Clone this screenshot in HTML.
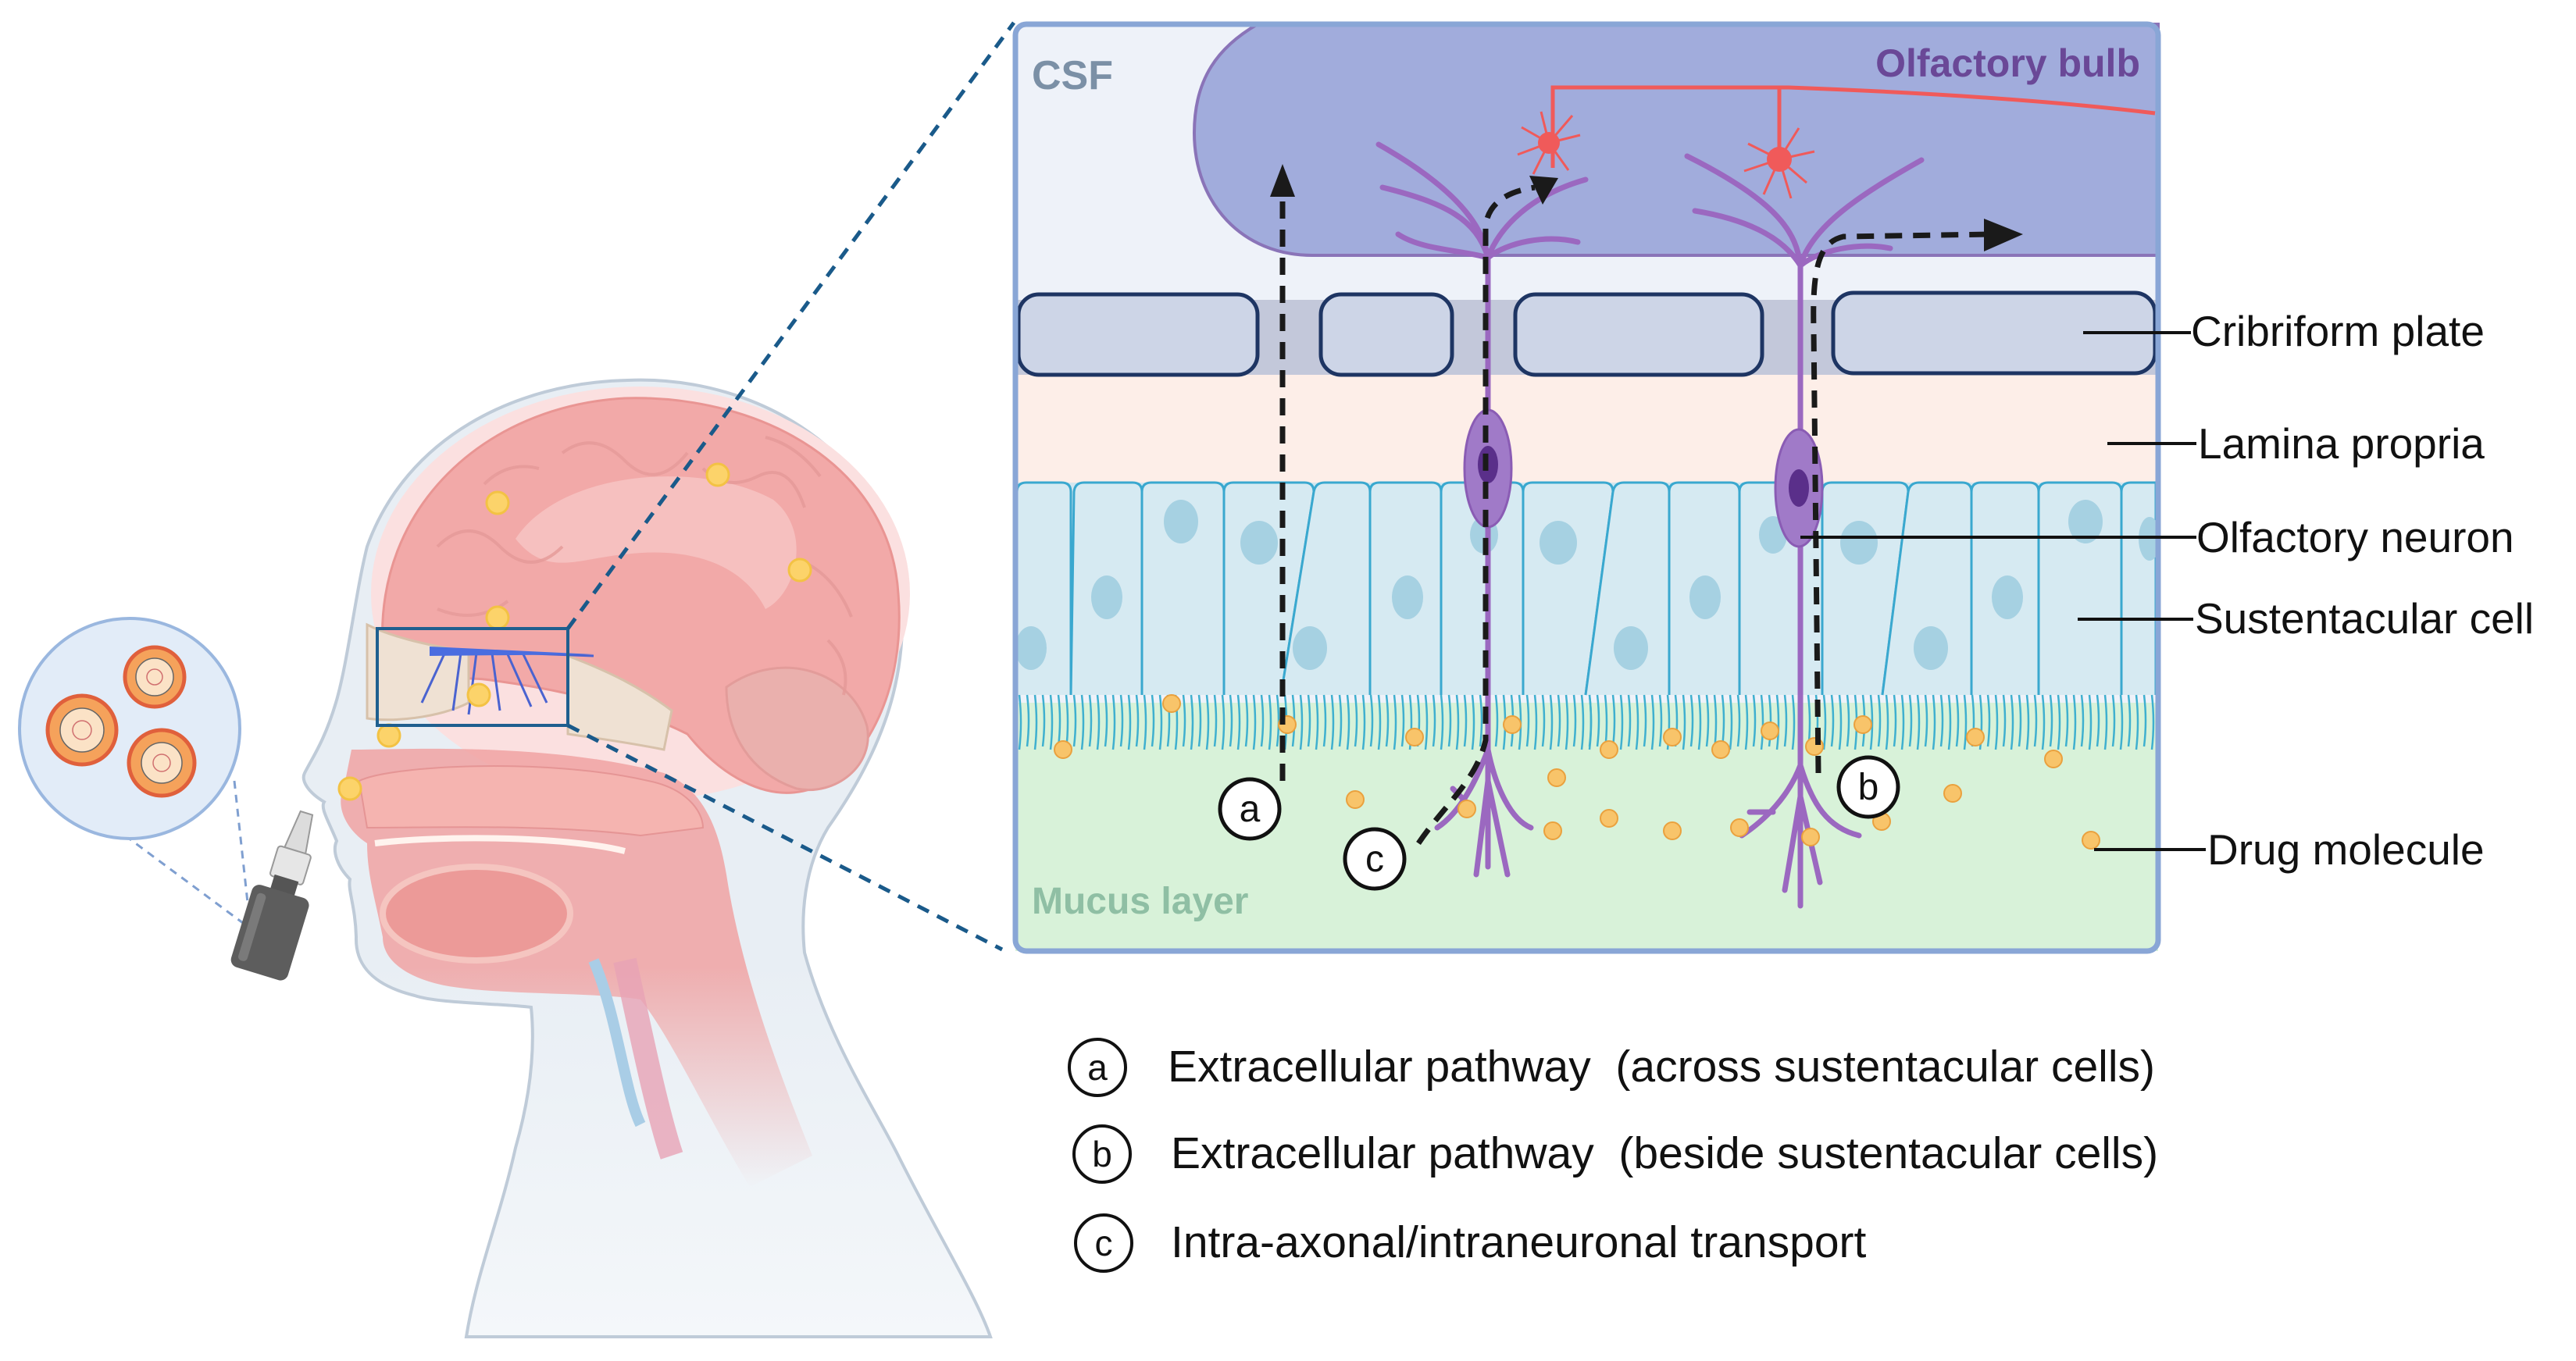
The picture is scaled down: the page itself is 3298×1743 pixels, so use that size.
<!DOCTYPE html>
<html><head><meta charset="utf-8"><style>
html,body{margin:0;padding:0;background:#fff;}
svg{display:block;}
text{font-family:"Liberation Sans",sans-serif;}
</style></head><body>
<svg width="3298" height="1743" viewBox="0 0 3298 1743" xmlns="http://www.w3.org/2000/svg">
<defs>
<linearGradient id="fade" x1="0" y1="0" x2="0" y2="1"><stop offset="0.6" stop-color="#e8eef4"/><stop offset="1" stop-color="#f4f7fa"/></linearGradient>
<linearGradient id="throat" x1="0" y1="0" x2="0" y2="1"><stop offset="0.5" stop-color="#f0a3a3"/><stop offset="1" stop-color="#f0a3a3" stop-opacity="0"/></linearGradient>
</defs>

<!-- ===== HEAD ===== -->
<path d="M804,487 C980,480 1130,590 1150,730 C1170,860 1130,960 1060,1060 C1030,1110 1025,1170 1030,1220 C1060,1330 1120,1420 1150,1480 C1200,1580 1250,1660 1268,1712 L597,1712 C610,1630 640,1560 660,1470 C680,1400 685,1340 680,1290 C640,1285 560,1285 531,1275 C470,1260 455,1230 456,1200 C455,1160 445,1140 448,1126 C432,1110 425,1090 431,1077 C420,1050 410,1035 415,1027 C395,1015 385,1000 390,990 C400,970 415,950 430,900 C445,850 455,760 470,700 C520,560 660,490 804,487 Z" fill="url(#fade)" stroke="#bfcbd8" stroke-width="4"/>
<!-- brain -->
<ellipse cx="820" cy="760" rx="345" ry="265" fill="#fbe0e0"/>
<path d="M490,830 C480,650 620,520 800,510 C980,505 1140,600 1150,760 C1160,880 1110,980 1040,1010 C980,1030 920,990 880,940 C800,900 700,880 620,870 C560,865 500,880 490,830 Z" fill="#f2a9a8" stroke="#e99593" stroke-width="3"/>
<path d="M660,690 C720,600 900,590 990,640 C1040,680 1020,760 980,780 C950,720 880,700 800,710 C740,715 700,740 660,690 Z" fill="#f6c0bf"/>
<path d="M930,880 C1000,830 1090,860 1110,930 C1120,980 1070,1020 1020,1010 C960,990 930,940 930,880 Z" fill="#eab0ad" stroke="#e39c9a" stroke-width="3"/>
<g stroke="#e59a98" stroke-width="4" fill="none" opacity="0.8">
<path d="M560,700 q40,-40 80,0 t80,0"/><path d="M720,580 q40,-30 80,10 t80,-10"/><path d="M900,600 q30,30 70,10 t60,40"/><path d="M560,780 q50,20 90,-10"/><path d="M1030,720 q40,20 60,70"/><path d="M1060,820 q30,30 20,70"/><path d="M620,620 q30,-30 70,-20"/><path d="M980,560 q40,10 70,50"/>
</g>
<!-- skull base -->
<path d="M470,800 C500,815 540,825 600,835 L600,900 C560,920 500,925 470,920 Z" fill="#efe1d3" stroke="#d7c1aa" stroke-width="3"/>
<path d="M727,840 C780,860 820,880 860,910 L850,960 C800,950 760,945 727,940 Z" fill="#efe1d3" stroke="#d7c1aa" stroke-width="3"/>
<!-- nasal/mouth pink -->
<path d="M450,960 C520,960 700,950 850,990 C900,1010 920,1060 930,1120 C950,1250 1000,1380 1040,1480 L960,1520 C900,1420 860,1330 820,1280 C760,1270 620,1275 560,1260 C520,1250 490,1230 490,1200 C480,1150 470,1120 470,1080 C440,1060 430,1030 440,1010 Z" fill="url(#throat)" opacity="0.85"/>
<path d="M460,1000 C500,980 700,970 830,1000 C880,1010 900,1040 900,1060 L820,1070 C700,1055 560,1060 470,1060 Z" fill="#f5b4b0" stroke="#e59595" stroke-width="2"/>
<ellipse cx="610" cy="1170" rx="120" ry="60" fill="#ec9a98" stroke="#f5c5c0" stroke-width="8"/>
<path d="M480,1080 C560,1070 720,1070 800,1090" stroke="#fff3ee" stroke-width="8" fill="none"/>
<path d="M760,1230 C790,1300 800,1400 820,1440" stroke="#a9cde6" stroke-width="14" fill="none"/>
<path d="M800,1230 C820,1320 840,1420 860,1480" stroke="#e7a3b5" stroke-width="30" fill="none" opacity="0.8"/>
<!-- olfactory nerves -->
<g stroke="#4a63d0" stroke-width="3" fill="none">
<path d="M550,832 L760,840"/><path d="M570,835 L540,900"/><path d="M590,836 L580,910"/><path d="M610,836 L600,915"/><path d="M630,837 L640,910"/><path d="M650,838 L680,905"/><path d="M670,838 L700,900"/>
</g>
<path d="M550,828 L760,838 L550,840 Z" fill="#4a6de0"/>
<!-- yellow dots -->
<g fill="#fcd36a" stroke="#f3c244" stroke-width="3">
<circle cx="637" cy="644" r="14"/><circle cx="919" cy="608" r="14"/><circle cx="1024" cy="730" r="14"/><circle cx="637" cy="791" r="14"/><circle cx="613" cy="890" r="14"/><circle cx="498" cy="942" r="14"/><circle cx="448" cy="1010" r="14"/>
</g>
<!-- blue box -->
<rect x="483" y="805" width="244" height="124" fill="none" stroke="#1f5f8f" stroke-width="4"/>
<!-- zoom dashed lines -->
<g stroke="#1a5a8a" stroke-width="5" stroke-dasharray="16,12" fill="none">
<line x1="727" y1="805" x2="1298" y2="29"/>
<line x1="727" y1="929" x2="1283" y2="1216"/>
</g>
<!-- bubble -->
<g stroke="#7f9fd0" stroke-width="3" stroke-dasharray="10,8" fill="none">
<line x1="160" y1="1070" x2="315" y2="1185"/><line x1="300" y1="1000" x2="318" y2="1165"/>
</g>
<circle cx="166" cy="933" r="141" fill="#e2ecf8" stroke="#9ab7df" stroke-width="4"/>
<g stroke="#666" stroke-width="1.5">
<circle cx="105" cy="935" r="44" fill="#f5a25b" stroke="#e0603c" stroke-width="5"/><circle cx="105" cy="935" r="28" fill="#fbe2c6"/><circle cx="105" cy="935" r="12" fill="none" stroke="#d07070"/>
<circle cx="198" cy="867" r="38" fill="#f5a25b" stroke="#e0603c" stroke-width="5"/><circle cx="198" cy="867" r="24" fill="#fbe2c6"/><circle cx="198" cy="867" r="10" fill="none" stroke="#d07070"/>
<circle cx="207" cy="977" r="42" fill="#f5a25b" stroke="#e0603c" stroke-width="5"/><circle cx="207" cy="977" r="26" fill="#fbe2c6"/><circle cx="207" cy="977" r="11" fill="none" stroke="#d07070"/>
</g>
<!-- spray bottle -->
<g transform="translate(350,1180) rotate(17)">
<path d="M-8,-145 L8,-145 L14,-95 L-14,-95 Z" fill="#dcdcdc" stroke="#999" stroke-width="2"/>
<rect x="-22" y="-95" width="44" height="40" rx="4" fill="#e6e6e6" stroke="#999" stroke-width="2"/>
<rect x="-16" y="-58" width="32" height="20" fill="#555"/>
<rect x="-38" y="-40" width="76" height="110" rx="10" fill="#5d5d5d"/>
<rect x="-30" y="-30" width="12" height="90" rx="5" fill="#7a7a7a"/>
</g>

<!-- ===== PANEL ===== -->
<rect x="1300" y="31" width="1463" height="1187" rx="14" fill="#eef2f9"/>
<rect x="1300" y="900" width="1463" height="318" fill="#d8f2d9"/>
<rect x="1300" y="478" width="1463" height="150" fill="#fdeee8"/>
<rect x="1300" y="384" width="1463" height="96" fill="#c3c8da"/>
<path d="M1610,31 L2763,31 L2763,327 L1680,327 C1590,327 1529,260 1529,170 C1529,100 1560,60 1610,31 Z" fill="#a1acdc" stroke="#8a74b8" stroke-width="4"/>
<g fill="#cdd5e7" stroke="#1e3563" stroke-width="5">
<rect x="1304" y="377" width="306" height="103" rx="26"/>
<rect x="1691" y="377" width="168" height="103" rx="26"/>
<rect x="1940" y="377" width="316" height="103" rx="26"/>
<rect x="2347" y="375" width="412" height="103" rx="26"/>
</g>
<!-- epithelium -->
<rect x="1300" y="618" width="1463" height="272" fill="#d3e7f0"/>
<g fill="#d6eaf2" stroke="#3aa8cf" stroke-width="3">
<path d="M1302,890 L1302,630 Q1302,618 1314,618 L1359,618 Q1371,618 1371,630 L1371,890"/>
<path d="M1371,890 L1375,630 Q1376,618 1388,618 L1450,618 Q1462,618 1462,630 L1462,890"/>
<path d="M1462,890 L1462,630 Q1462,618 1474,618 L1555,618 Q1567,618 1567,630 L1567,890"/>
<path d="M1567,890 L1567,630 Q1567,618 1579,618 L1670,618 Q1682,618 1682,630 L1640,890"/>
<path d="M1640,890 L1682,630 Q1684,618 1696,618 L1742,618 Q1754,618 1754,630 L1754,890"/>
<path d="M1754,890 L1754,630 Q1754,618 1766,618 L1833,618 Q1845,618 1845,630 L1845,890"/>
<path d="M1845,890 L1845,630 Q1845,618 1857,618 L1938,618 Q1950,618 1950,630 L1950,890"/>
<path d="M1950,890 L1950,630 Q1950,618 1962,618 L2053,618 Q2065,618 2065,630 L2030,890"/>
<path d="M2030,890 L2065,630 Q2067,618 2079,618 L2125,618 Q2137,618 2137,630 L2137,890"/>
<path d="M2137,890 L2137,630 Q2137,618 2149,618 L2215,618 Q2227,618 2227,630 L2227,890"/>
<path d="M2227,890 L2227,630 Q2227,618 2239,618 L2321,618 Q2333,618 2333,630 L2333,890"/>
<path d="M2333,890 L2333,630 Q2333,618 2345,618 L2431,618 Q2443,618 2443,630 L2410,890"/>
<path d="M2410,890 L2443,630 Q2445,618 2457,618 L2512,618 Q2524,618 2524,630 L2524,890"/>
<path d="M2524,890 L2524,630 Q2524,618 2536,618 L2598,618 Q2610,618 2610,630 L2610,890"/>
<path d="M2610,890 L2610,630 Q2610,618 2622,618 L2704,618 Q2716,618 2716,630 L2716,890"/>
<path d="M2716,890 L2716,630 Q2716,618 2728,618 L2760,618 L2760,890"/>
</g>
<g fill="#a6d1e2">
<ellipse cx="1320" cy="830" rx="20" ry="28"/><ellipse cx="1417" cy="765" rx="20" ry="28"/><ellipse cx="1512" cy="668" rx="22" ry="28"/><ellipse cx="1612" cy="695" rx="24" ry="28"/><ellipse cx="1677" cy="830" rx="22" ry="28"/><ellipse cx="1802" cy="765" rx="20" ry="28"/><ellipse cx="1900" cy="685" rx="18" ry="24"/><ellipse cx="1995" cy="695" rx="24" ry="28"/><ellipse cx="2088" cy="830" rx="22" ry="28"/><ellipse cx="2183" cy="765" rx="20" ry="28"/><ellipse cx="2270" cy="685" rx="18" ry="24"/><ellipse cx="2380" cy="695" rx="24" ry="28"/><ellipse cx="2472" cy="830" rx="22" ry="28"/><ellipse cx="2570" cy="765" rx="20" ry="28"/><ellipse cx="2670" cy="668" rx="22" ry="28"/><ellipse cx="2752" cy="690" rx="14" ry="28"/>
</g>
<!-- cilia -->
<g stroke="#3fb0cf" stroke-width="2.5" fill="none" id="cil">
<path d="M1305,890 q4,35 0,70 M1315,890 q4,33 0,66 M1325,890 q4,35 0,70 M1335,890 q4,33 0,66 M1345,890 q4,35 0,70 M1355,890 q4,33 0,66 M1365,890 q4,35 0,70 M1375,890 q4,33 0,66 M1385,890 q4,35 0,70 M1395,890 q4,33 0,66 M1405,890 q4,35 0,70 M1415,890 q4,33 0,66 M1425,890 q4,35 0,70 M1435,890 q4,33 0,66 M1445,890 q4,35 0,70 M1455,890 q4,33 0,66 M1465,890 q4,35 0,70 M1475,890 q4,33 0,66 M1485,890 q4,35 0,70 M1495,890 q4,33 0,66 M1505,890 q4,35 0,70 M1515,890 q4,33 0,66 M1525,890 q4,35 0,70 M1535,890 q4,33 0,66 M1545,890 q4,35 0,70 M1555,890 q4,33 0,66 M1565,890 q4,35 0,70 M1575,890 q4,33 0,66 M1585,890 q4,35 0,70 M1595,890 q4,33 0,66 M1605,890 q4,35 0,70 M1615,890 q4,33 0,66 M1625,890 q4,35 0,70 M1635,890 q4,33 0,66 M1645,890 q4,35 0,70 M1655,890 q4,33 0,66 M1665,890 q4,35 0,70 M1675,890 q4,33 0,66 M1685,890 q4,35 0,70 M1695,890 q4,33 0,66 M1705,890 q4,35 0,70 M1715,890 q4,33 0,66 M1725,890 q4,35 0,70 M1735,890 q4,33 0,66 M1745,890 q4,35 0,70 M1755,890 q4,33 0,66 M1765,890 q4,35 0,70 M1775,890 q4,33 0,66 M1785,890 q4,35 0,70 M1795,890 q4,33 0,66 M1805,890 q4,35 0,70 M1815,890 q4,33 0,66 M1825,890 q4,35 0,70 M1835,890 q4,33 0,66 M1845,890 q4,35 0,70 M1855,890 q4,33 0,66 M1865,890 q4,35 0,70 M1875,890 q4,33 0,66 M1885,890 q4,35 0,70 M1895,890 q4,33 0,66 M1905,890 q4,35 0,70 M1915,890 q4,33 0,66 M1925,890 q4,35 0,70 M1935,890 q4,33 0,66 M1945,890 q4,35 0,70 M1955,890 q4,33 0,66 M1965,890 q4,35 0,70 M1975,890 q4,33 0,66 M1985,890 q4,35 0,70 M1995,890 q4,33 0,66 M2005,890 q4,35 0,70 M2015,890 q4,33 0,66 M2025,890 q4,35 0,70 M2035,890 q4,33 0,66"/>
</g>
<use href="#cil" x="730"/>
<rect x="2763" y="880" width="60" height="90" fill="#fff"/>
<!-- red neurons -->
<g stroke="#f05a5a" stroke-width="5" fill="none">
<path d="M1988,215 L1988,112 L2290,112 C2450,118 2620,128 2759,145"/>
<path d="M2278,112 L2278,200"/>
</g>
<g stroke="#f05a5a" stroke-width="3" fill="none">
<path d="M1983,183 l-35,-20 m35,20 l-40,15 m40,-15 l-20,40 m20,-40 l25,35 m-25,-35 l40,-10 m-40,10 l30,-35 m-30,35 l-10,-40"/>
<path d="M2278,204 l-40,-20 m40,20 l-45,15 m45,-15 l-20,45 m20,-45 l15,50 m-15,-50 l35,30 m-35,-30 l45,-10 m-45,10 l25,-40"/>
</g>
<circle cx="1983" cy="183" r="14" fill="#f05a5a"/><circle cx="2278" cy="204" r="16" fill="#f05a5a"/>
<!-- olfactory neurons -->
<g stroke="#9b68c0" stroke-width="7" fill="none" stroke-linecap="round">
<path d="M1905,1110 L1905,330 C1900,300 1880,250 1765,185"/>
<path d="M1905,330 C1890,280 1850,260 1770,240"/>
<path d="M1905,330 C1870,320 1820,320 1790,300"/>
<path d="M1905,330 C1920,290 1960,250 2030,230"/>
<path d="M1905,330 C1930,310 1980,300 2020,310"/>
<path d="M1905,960 C1890,1000 1870,1040 1840,1060 M1905,960 C1915,1010 1935,1050 1960,1060 M1905,1000 L1890,1120 M1905,1000 L1930,1120 M1880,1030 L1860,1010"/>
<path d="M2305,1160 L2305,340 C2300,300 2280,260 2160,200"/>
<path d="M2305,340 C2280,300 2230,280 2170,270"/>
<path d="M2305,340 C2320,290 2380,250 2460,205"/>
<path d="M2305,340 C2330,320 2380,310 2420,318"/>
<path d="M2305,980 C2290,1020 2260,1050 2230,1070 M2305,980 C2320,1030 2340,1060 2380,1070 M2305,1020 L2285,1140 M2305,1020 L2330,1130 M2270,1040 L2240,1040"/>
</g>
<ellipse cx="1905" cy="600" rx="30" ry="75" fill="#a07ac8" stroke="#8a5cb4" stroke-width="3"/>
<ellipse cx="1905" cy="595" rx="13" ry="24" fill="#5a2f8a"/>
<ellipse cx="2303" cy="625" rx="30" ry="75" fill="#a07ac8" stroke="#8a5cb4" stroke-width="3"/>
<ellipse cx="2303" cy="625" rx="13" ry="24" fill="#5a2f8a"/>
<!-- drug dots -->
<g fill="#f8c46a" stroke="#eaa13e" stroke-width="2">
<circle cx="1500" cy="901" r="11"/><circle cx="1361" cy="960" r="11"/><circle cx="1648" cy="928" r="11"/><circle cx="1811" cy="944" r="11"/><circle cx="1936" cy="928" r="11"/><circle cx="1993" cy="996" r="11"/><circle cx="1735" cy="1024" r="11"/><circle cx="1878" cy="1036" r="11"/><circle cx="1988" cy="1064" r="11"/><circle cx="2060" cy="960" r="11"/><circle cx="2060" cy="1048" r="11"/><circle cx="2141" cy="944" r="11"/><circle cx="2141" cy="1064" r="11"/><circle cx="2203" cy="960" r="11"/><circle cx="2227" cy="1060" r="11"/><circle cx="2266" cy="936" r="11"/><circle cx="2323" cy="956" r="11"/><circle cx="2385" cy="928" r="11"/><circle cx="2414" cy="992" r="11"/><circle cx="2409" cy="1052" r="11"/><circle cx="2318" cy="1072" r="11"/><circle cx="2529" cy="944" r="11"/><circle cx="2629" cy="972" r="11"/><circle cx="2500" cy="1016" r="11"/><circle cx="2677" cy="1076" r="11"/>
</g>
<!-- dashed pathways -->
<g stroke="#1a1a1a" stroke-width="7" stroke-dasharray="22,14" fill="none">
<path d="M1642,1000 L1642,250"/>
<path d="M1816,1080 C1850,1030 1890,1000 1902,948 L1902,290 C1905,260 1930,245 1965,240"/>
<path d="M2328,990 L2322,420 C2320,340 2330,310 2360,303 L2550,300"/>
</g>
<g fill="#1a1a1a">
<polygon points="1642,210 1626,252 1658,252"/>
<polygon points="1995,228 1958,225 1975,262"/>
<polygon points="2590,300 2540,280 2540,322"/>
</g>
<g fill="#fff" stroke="#111" stroke-width="5">
<circle cx="1600" cy="1036" r="38"/><circle cx="1760" cy="1100" r="38"/><circle cx="2392" cy="1008" r="38"/>
</g>
<g font-size="48" fill="#111" text-anchor="middle">
<text x="1600" y="1052">a</text><text x="1760" y="1116">c</text><text x="2392" y="1024">b</text>
</g>
<rect x="1300" y="31" width="1463" height="1187" rx="14" fill="none" stroke="#89a6d6" stroke-width="7"/>
<text x="1321" y="114" font-size="52" font-weight="bold" fill="#7b90a6">CSF</text>
<text x="2740" y="98" font-size="50" font-weight="bold" fill="#6a4897" text-anchor="end">Olfactory bulb</text>
<text x="1321" y="1170" font-size="48" font-weight="bold" fill="#8fbfa4">Mucus layer</text>
<g stroke="#111" stroke-width="4">
<line x1="2667" y1="426" x2="2805" y2="426"/>
<line x1="2698" y1="568" x2="2812" y2="568"/>
<line x1="2305" y1="688" x2="2812" y2="688"/>
<line x1="2660" y1="793" x2="2808" y2="793"/>
<line x1="2681" y1="1088" x2="2824" y2="1088"/>
</g>
<g font-size="55" fill="#111">
<text x="2805" y="443">Cribriform plate</text>
<text x="2814" y="587">Lamina propria</text>
<text x="2812" y="707">Olfactory neuron</text>
<text x="2810" y="811">Sustentacular cell</text>
<text x="2826" y="1107">Drug molecule</text>
</g>
<g fill="#fff" stroke="#111" stroke-width="4">
<circle cx="1405" cy="1367" r="36"/><circle cx="1411" cy="1478" r="36"/><circle cx="1413" cy="1592" r="36"/>
</g>
<g font-size="46" fill="#111" text-anchor="middle">
<text x="1405" y="1383">a</text><text x="1411" y="1494">b</text><text x="1413" y="1608">c</text>
</g>
<g font-size="57" fill="#111">
<text x="1495" y="1385">Extracellular pathway &#160;(across sustentacular cells)</text>
<text x="1499" y="1496">Extracellular pathway &#160;(beside sustentacular cells)</text>
<text x="1499" y="1610">Intra-axonal/intraneuronal transport</text>
</g>
</svg>
</body></html>
